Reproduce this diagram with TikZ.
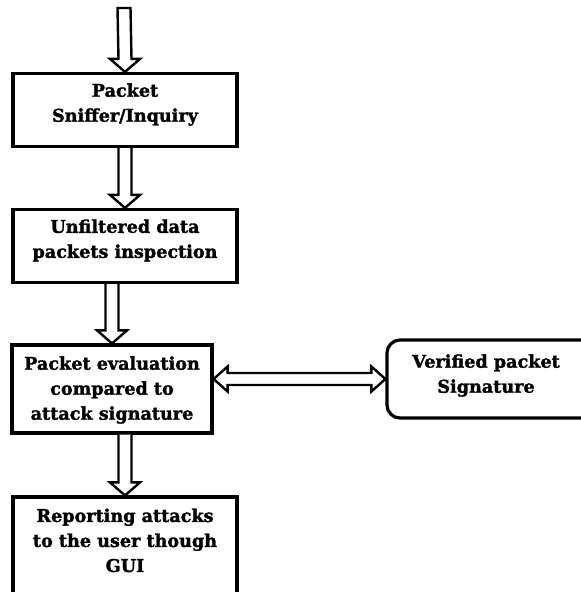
\documentclass[tikz,border=0pt]{standalone}
\usepackage{fontspec}
\newfontfamily\boxfont{DejaVu Serif}[BoldFeatures={FakeBold=1.6}]
\usetikzlibrary{calc}
\tikzset{
  box/.style={draw=black, line width=3.2pt, fill=white, rectangle, inner sep=0pt},
  rbox/.style={box, rounded corners=13pt},
  txt/.style={align=center, inner sep=0pt, font=\boxfont\bfseries\fontsize{17.6}{25}\selectfont},
  blk/.style={draw=black, line width=2.4pt, line join=miter, fill=white},
}
\newcommand{\vblock}[2]{%
  \draw[blk] ($(#1.south -| #2.north)+(-6.5,0)$) -- ($(#2.north)+(-6.5,13)$) -- ($(#2.north)+(-15,13)$) -- (#2.north) -- ($(#2.north)+(15,13)$) -- ($(#2.north)+(6.5,13)$) -- ($(#1.south -| #2.north)+(6.5,0)$);}
\begin{document}
\begin{tikzpicture}[x=1pt,y=1pt]
\useasboundingbox (0,0) rectangle (581,-592);
\node[box, minimum width=224pt, minimum height=73pt] (b1) at (125,-110) {};
\node[box, minimum width=224pt, minimum height=73pt] (b2) at (125,-246) {};
\node[box, minimum width=200pt, minimum height=88pt] (b3) at (112,-389) {};
\node[box, minimum width=224pt, minimum height=142pt] (b4) at (125,-568) {};
\node[rbox, minimum width=208pt, minimum height=78pt] (b5) at (491,-379) {};
\node[txt] (t1) at ($(b1.center)+(0,5.5)$) {Packet\\Sniffer/Inquiry};
\node[txt] (t2) at ($(b2.center)+(0,5.5)$) {Unfiltered data\\packets inspection};
\node[txt] (t3) at ($(b3.center)+(0,-1)$) {Packet evaluation\\compared to\\attack signature};
\node[txt] (t4) at ($(b4.north)+(0,-45)$) {Reporting attacks\\to the user though\\GUI};
\node[txt] (t5) at ($(b5.center)+(-5,3.5)$) {Verified packet\\Signature};
\coordinate (src) at (124,-8);
% incoming arrow
\draw[blk] ($(src)+(-6.5,0)$) -- ($(b1.north)+(-6.5,13)$) -- ($(b1.north)+(-15,13)$) -- (b1.north) -- ($(b1.north)+(15,13)$) -- ($(b1.north)+(6.5,13)$) -- ($(src)+(6.5,0)$) -- cycle;
\vblock{b1}{b2}
\vblock{b2}{b3}
\vblock{b3}{b4}
% two-way arrow
\coordinate (L) at (b3.east |- b5.west);
\draw[blk] (L) -- ($(L)+(14,12.5)$) -- ($(L)+(14,6)$) -- ($(b5.west)+(-14,6)$) -- ($(b5.west)+(-14,12.5)$) -- (b5.west) -- ($(b5.west)+(-14,-12.5)$) -- ($(b5.west)+(-14,-6)$) -- ($(L)+(14,-6)$) -- ($(L)+(14,-12.5)$) -- cycle;
\end{tikzpicture}
\end{document}
